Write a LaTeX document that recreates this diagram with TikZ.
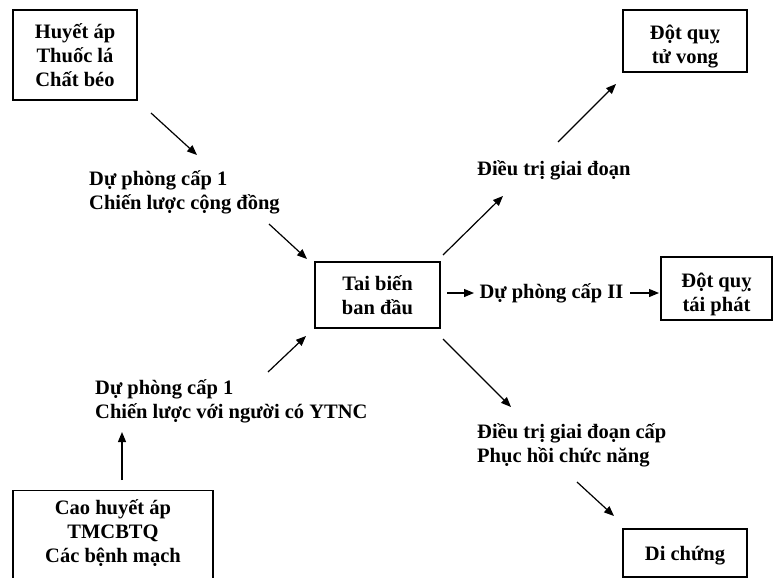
\documentclass[tikz,border=0pt]{standalone}
\usepackage{fontspec}
\setmainfont{Liberation Serif}
\usetikzlibrary{arrows.meta}
\begin{document}
\begin{tikzpicture}[x=1pt,y=-1pt,
  every node/.style={font=\bfseries\fontsize{20.5}{24}\selectfont},
  box/.style={draw, line width=1.2pt, align=center, inner sep=0pt},
  btxt/.style={align=center, inner sep=0pt},
  txt/.style={align=left, inner sep=0pt, anchor=west},
  conn/.style={line width=1.2pt, -{Triangle[length=10pt,width=8pt]}}]
\useasboundingbox (0,0) rectangle (774,578);
\clip (0,0) rectangle (774,578);
% boxes
\node[box, minimum width=124pt, minimum height=90pt] (b1) at (75,55) {Huyết áp\\Thuốc lá\\Chất béo};
\node[box, minimum width=125pt, minimum height=66pt] (c) at (377.5,295) {Tai biến\\ban đầu};
\node[box, minimum width=124pt, minimum height=62pt] (b2) at (685,41) {};
\node[btxt] (b2t) at (685,47) {Đột quỵ\\tử vong};
\node[box, minimum width=111pt, minimum height=63pt] (b3) at (716.5,288.5) {};
\node[btxt] (b3t) at (716.5,294.5) {Đột quỵ\\tái phát};
\node[box, minimum width=124pt, minimum height=48pt] (b4) at (685,553) {};
\node[btxt] (b4t) at (685,556) {Di chứng};
\node[box, minimum width=200pt, minimum height=110pt, anchor=north] (b5) at (113,490) {};
\node[btxt] (b5t) at (113,533.5) {Cao huyết áp\\TMCBTQ\\Các bệnh mạch};
% texts
\node[txt] (t1) at (89,192) {Dự phòng cấp 1\\Chiến lược cộng đồng};
\node[txt] (t5) at (95,401) {Dự phòng cấp 1\\Chiến lược với người có YTNC};
\node[txt] (t3) at (477,170) {Điều trị giai đoạn};
\node[txt] (t4) at (477,445) {Điều trị giai đoạn cấp\\Phục hồi chức năng};
\node[btxt] (t2) at (551.5,293) {Dự phòng cấp II};
% connector end points
\coordinate (a1s) at (151,113); \coordinate (a1e) at (197,155);
\coordinate (a2s) at (269,224); \coordinate (a2e) at (307,259);
\coordinate (a3s) at (268,372); \coordinate (a3e) at (306,336);
\coordinate (a4s) at (443,255); \coordinate (a4e) at (503,196);
\coordinate (a5s) at (558,142); \coordinate (a5e) at (616,84);
\coordinate (a6s) at (443,339); \coordinate (a6e) at (511,407);
\coordinate (a7s) at (577,482); \coordinate (a7e) at (614,516);
\coordinate (a8s) at (447,293); \coordinate (a8e) at (474,293);
\coordinate (a9s) at (630,293); \coordinate (a9e) at (659,293);
\coordinate (a10s) at (122,480); \coordinate (a10e) at (122,432);
% connectors
\draw[conn] (a1s) -- (a1e);
\draw[conn] (a2s) -- (a2e);
\draw[conn] (a3s) -- (a3e);
\draw[conn] (a4s) -- (a4e);
\draw[conn] (a5s) -- (a5e);
\draw[conn] (a6s) -- (a6e);
\draw[conn] (a7s) -- (a7e);
\draw[conn] (a8s) -- (a8e);
\draw[conn] (a9s) -- (a9e);
\draw[conn] (a10s) -- (a10e);
\end{tikzpicture}
\end{document}
